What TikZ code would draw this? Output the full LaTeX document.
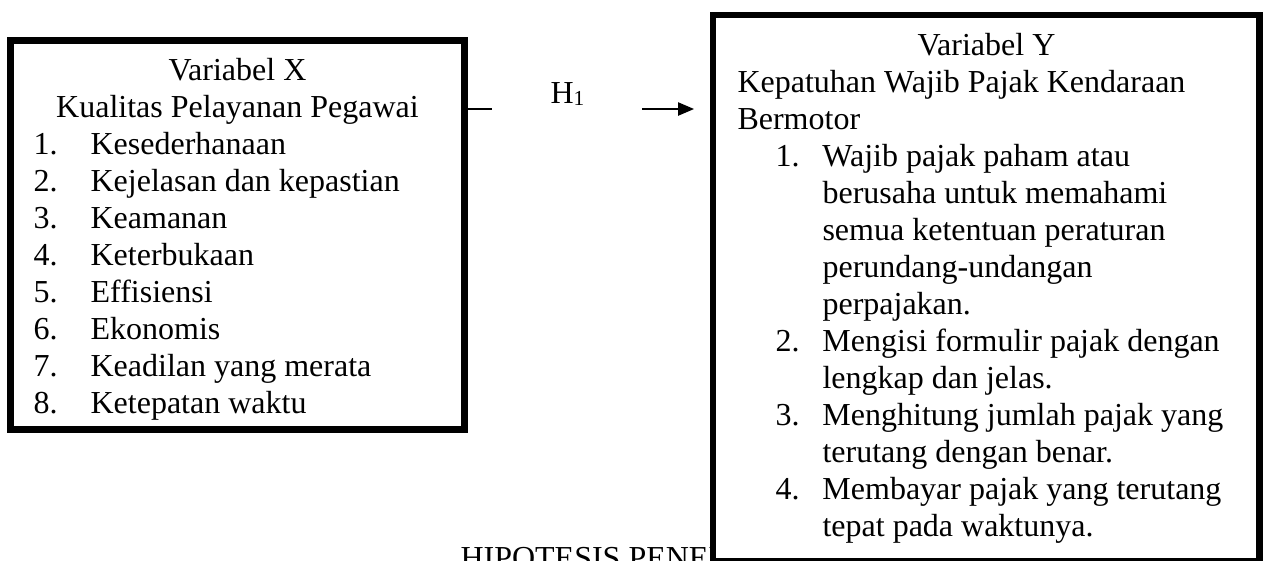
\documentclass[tikz,border=0pt]{standalone}
\usepackage{fontspec}
\setmainfont{Liberation Serif}
\usetikzlibrary{arrows.meta}

\tikzset{
	kotak/.style={draw, line width=2.6pt, inner sep=0pt, outer sep=0pt, anchor=north west},
	baris/.style={anchor=base west, inner sep=0pt},
	judul/.style={anchor=base, inner sep=0pt},
}

\begin{document}
\begin{tikzpicture}[x=0.375pt, y=-0.375pt, font=\fontsize{12}{13.8}\selectfont]

		\clip (0, 0) rectangle (1264, 560);

		% judul di bawah, tertutup kotak Y
		\node[baris] (HP) at (460, 568) {HIPOTESIS PENELITIAN};

		\node[kotak, minimum width=170.4pt, minimum height=145.7pt] (X) at (10.5, 40.5) {};
		\node[kotak, fill=white, minimum width=205.1pt, minimum height=204.8pt] (Y) at (713, 15) {};

		% variabel X
		\node[judul] (X0) at (237.5, 80) {Variabel X};
		\node[judul] (X1) at (237.5, 117) {Kualitas Pelayanan Pegawai};
		\node[baris] (X2) at (33, 154) {\makebox[21.4pt][l]{1.}Kesederhanaan};
		\node[baris] (X3) at (33, 191) {\makebox[21.4pt][l]{2.}Kejelasan dan kepastian};
		\node[baris] (X4) at (33, 228) {\makebox[21.4pt][l]{3.}Keamanan};
		\node[baris] (X5) at (33, 265) {\makebox[21.4pt][l]{4.}Keterbukaan};
		\node[baris] (X6) at (33, 302) {\makebox[21.4pt][l]{5.}Effisiensi};
		\node[baris] (X7) at (33, 339) {\makebox[21.4pt][l]{6.}Ekonomis};
		\node[baris] (X8) at (33, 376) {\makebox[21.4pt][l]{7.}Keadilan yang merata};
		\node[baris] (X9) at (33, 413) {\makebox[21.4pt][l]{8.}Ketepatan waktu};

		% variabel Y
		\node[judul] (Y0) at (986.5, 55) {Variabel Y};
		\node[baris] (Y1) at (737, 92) {Kepatuhan Wajib Pajak Kendaraan};
		\node[baris] (Y2) at (737, 129) {Bermotor};
		\node[baris] (Y3) at (775, 166) {\makebox[17.6pt][l]{1.}Wajib pajak paham atau};
		\node[baris] (Y4) at (822, 203) {berusaha untuk memahami};
		\node[baris] (Y5) at (822, 240) {semua ketentuan peraturan};
		\node[baris] (Y6) at (822, 277) {perundang-undangan};
		\node[baris] (Y7) at (822, 314) {perpajakan.};
		\node[baris] (Y8) at (775, 351) {\makebox[17.6pt][l]{2.}Mengisi formulir pajak dengan};
		\node[baris] (Y9) at (822, 388) {lengkap dan jelas.};
		\node[baris] (Y10) at (775, 425) {\makebox[17.6pt][l]{3.}Menghitung jumlah pajak yang};
		\node[baris] (Y11) at (822, 462) {terutang dengan benar.};
		\node[baris] (Y12) at (775, 499) {\makebox[17.6pt][l]{4.}Membayar pajak yang terutang};
		\node[baris] (Y13) at (822, 536) {tepat pada waktunya.};

		% hipotesis
		\node[baris] (H1) at (550, 103) {H\raisebox{-1.1pt}{\fontsize{8}{9}\selectfont 1}};

		\coordinate (L) at (492, 109);
		\coordinate (A) at (642, 109);

		\draw[line width=0.8pt] (X.east |- L) -- (L);
		\draw[line width=0.8pt, -{Triangle[length=6pt, width=4.9pt]}, shorten >=7.1pt] (A) -- (Y.west |- A);

\end{tikzpicture}
\end{document}
